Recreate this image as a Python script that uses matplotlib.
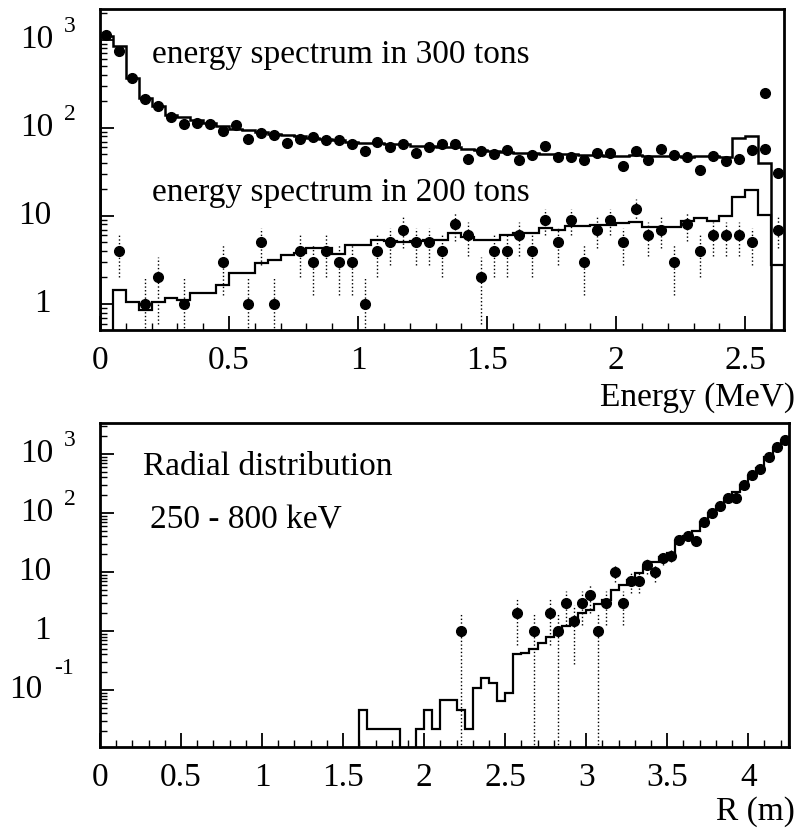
import numpy as np
import matplotlib
matplotlib.use("Agg")
from matplotlib import pyplot as plt
from matplotlib import ticker

plt.rcParams['font.family'] = ['Liberation Serif', 'DejaVu Serif']
plt.rcParams['mathtext.fontset'] = 'stix'

# energy spectra, 0.05 MeV bins from 0 to 2.65 MeV
e_edges = np.linspace(0, 2.65, 54)
mc_300 = [1110, 840, 367, 217, 178, 140, 134, 123, 115, 105, 98, 95, 89, 85, 83, 80, 76, 74,
          72, 70, 68, 67, 66, 65, 63, 62, 61, 60, 57, 56, 54, 53, 52, 52, 51, 51,
          50, 49, 49, 48, 48, 49, 48, 48, 48, 47, 48, 48, 47, 76, 80, 40, 0]
data_300 = [1140, 755, 367, 212, 178, 132, 111, 115, 111, 91, 108, 74, 87, 83, 67, 74, 78,
            72, 73, 66, 55, 70, 61, 66, 52, 61, 66, 66, 44, 55, 51, 56, 43, 49, 63,
            47, 47, 43, 52, 52, 37, 54, 43, 57, 49, 47, 33, 48, 42, 44, 56, 57, 31]
mc_200 = [0, 1.44, 1.06, 0.85, 1.06, 1.17, 1.1, 1.33, 1.33, 1.64, 2.25, 2.25, 2.9, 3.16,
          3.6, 3.8, 4.3, 4.3, 3.7, 4.7, 4.7, 5.4, 5.2, 5.0, 5.2, 5.4, 5.4, 6.35, 5.7, 5.4,
          5.4, 6.1, 6.45, 6.45, 7.25, 6.9, 7.7, 7.7, 7.9, 7.9, 8.4, 8.6, 7.4, 7.4, 7.4,
          8.8, 9.4, 8.8, 10.0, 16.5, 19.8, 10.3, 2.8]
data_200 = [0, 4, 0, 1, 2, 0, 1, 0, 0, 3, 0, 1, 5, 1, 0, 4, 3, 4, 3, 3, 1, 4, 5, 7, 5, 5,
            4, 8, 6, 2, 4, 4, 6, 4, 9, 5, 9, 3, 7, 9, 5, 12, 6, 7, 3, 8, 4, 6, 6, 6, 5,
            250, 7]

# radial distribution 250 - 800 keV, 0.05 m bins
r_edges = np.linspace(1.6, 4.25, 54)
mc_r = [0.045, 0.022, 0.022, 0.022, 0.022, 0, 0, 0.022, 0.045, 0.022, 0.068, 0.068,
        0.045, 0.022, 0.11, 0.158, 0.13, 0.066, 0.088, 0.40, 0.43, 0.50, 0.62, 0.78, 1.0,
        1.2, 1.6, 2.0, 2.3, 2.9, 3.4, 5.0, 6.0, 7.3, 9.5, 12, 15, 18, 21, 33, 40, 50, 70,
        100, 130, 175, 230, 300, 430, 570, 880, 1250, 1650]
r_points = [2.225, 2.575, 2.675, 2.775, 2.825, 2.875, 2.925, 2.975, 3.025, 3.075, 3.125,
            3.175, 3.225, 3.275, 3.325, 3.375, 3.425, 3.475, 3.525, 3.575, 3.625, 3.675,
            3.725, 3.775, 3.825, 3.875, 3.925, 3.975, 4.025, 4.075, 4.125, 4.175, 4.225]
data_r = [1, 2, 1, 2, 1, 3, 1.5, 3, 4, 1, 3, 10, 3, 7, 7, 13, 10, 17, 19, 35, 40, 34, 71,
          101, 131, 177, 177, 298, 441, 550, 900, 1330, 1730]

top_xticks = [0, 0.5, 1, 1.5, 2, 2.5]
top_xlabels = ["0", "0.5", "1", "1.5", "2", "2.5"]
bot_xticks = [0, 0.5, 1, 1.5, 2, 2.5, 3, 3.5, 4]
bot_xlabels = ["0", "0.5", "1", "1.5", "2", "2.5", "3", "3.5", "4"]
top_yticks = [1, 10, 100, 1000]
top_ylabels = [("1", ""), ("10", ""), ("10", "2"), ("10", "3")]
bot_yticks = [0.1, 1, 10, 100, 1000]
bot_ylabels = [("10", "-1"), ("1", ""), ("10", ""), ("10", "2"), ("10", "3")]

FS = 24
TINY = 1e-6


def log_labels(ax, ticks, labels):
    ax.set_yticks(ticks)
    ax.set_yticklabels([])
    trans = ax.get_yaxis_transform()
    for val, (base, expo) in zip(ticks, labels):
        if expo.startswith('-'):
            bx, ex, ey = -58, -46, 21
        elif expo:
            bx, ex, ey = -47, -36, 13
        else:
            bx = -49
        ax.annotate(base, xy=(0, val), xycoords=trans, xytext=(bx, 0),
                    textcoords='offset pixels', ha='right', va='center',
                    fontsize=FS, annotation_clip=False)
        if expo:
            ax.annotate(expo, xy=(0, val), xycoords=trans, xytext=(ex, ey),
                        textcoords='offset pixels', ha='left', va='center',
                        fontsize=17, annotation_clip=False)


def style(ax):
    ax.set_yscale('log')
    ax.yaxis.set_minor_locator(ticker.LogLocator(base=10, subs=np.arange(2, 10), numticks=20))
    ax.yaxis.set_minor_formatter(ticker.NullFormatter())
    ax.xaxis.set_minor_locator(ticker.MultipleLocator(0.1))
    ax.tick_params(which='major', direction='in', length=10, width=1.3,
                   labelsize=FS, pad=11)
    ax.tick_params(which='minor', direction='in', length=5, width=1)
    for s in ax.spines.values():
        s.set_linewidth(2)


def points(ax, x, y):
    x = np.asarray(x, float)
    y = np.asarray(y, float)
    m = y > 0
    x, y = x[m], y[m]
    err = np.sqrt(y)
    lo = np.where(y - err > 0, y - err, TINY)
    ax.vlines(x, lo, y + err, colors='k', linestyles=':', linewidth=1)
    ax.plot(x, y, 'o', color='k', ms=7)


fig = plt.figure(figsize=(8, 8.32), dpi=100)
ax1 = fig.add_axes([0.125, 0.6034, 0.855, 0.3858])
ax2 = fig.add_axes([0.125, 0.1022, 0.861, 0.3894])

# top panel: energy spectra
e_cent = 0.5 * (e_edges[:-1] + e_edges[1:])
ax1.stairs(np.maximum(mc_300, TINY), e_edges, baseline=TINY, color='k', lw=1.8)
ax1.stairs(np.maximum(mc_200, TINY), e_edges, baseline=TINY, color='k', lw=1.6)
ax1.plot(e_cent, data_300, 'o', color='k', ms=7)
points(ax1, e_cent, data_200)
style(ax1)
ax1.set_xlim(0, 2.65)
ax1.set_ylim(0.507, 2240)
ax1.set_xticks(top_xticks, top_xlabels)
log_labels(ax1, top_yticks, top_ylabels)
ax1.text(0.076, 0.857, "energy spectrum in 300 tons", transform=ax1.transAxes,
         fontsize=FS, va='center', ha='left')
ax1.text(0.076, 0.427, "energy spectrum in 200 tons", transform=ax1.transAxes,
         fontsize=FS, va='center', ha='left')
ax1.text(1.016, -0.212, "Energy (MeV)", transform=ax1.transAxes,
         fontsize=FS, va='center', ha='right')

# bottom panel: radial distribution
ax2.stairs(np.maximum(mc_r, TINY), r_edges, baseline=TINY, color='k', lw=1.6)
points(ax2, r_points, data_r)
style(ax2)
ax2.set_xlim(0, 4.25)
ax2.set_ylim(0.0108, 3350)
ax2.set_xticks(bot_xticks, bot_xlabels)
log_labels(ax2, bot_yticks, bot_ylabels)
ax2.text(0.062, 0.864, "Radial distribution", transform=ax2.transAxes,
         fontsize=FS, va='center', ha='left')
ax2.text(0.073, 0.70, "250 - 800 keV", transform=ax2.transAxes,
         fontsize=FS, va='center', ha='left')
ax2.text(1.009, -0.198, "R (m)", transform=ax2.transAxes,
         fontsize=FS, va='center', ha='right')

fig.savefig("out.png", dpi=100, facecolor='white')
